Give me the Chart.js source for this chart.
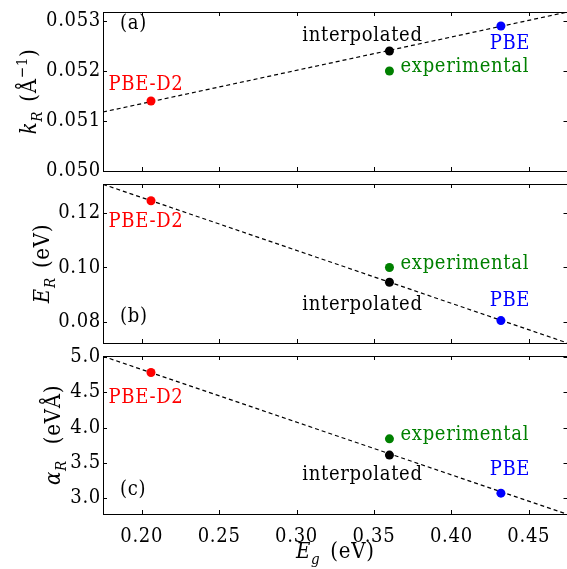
<!DOCTYPE html>
<html>
<head>
<meta charset="utf-8">
<script src="https://cdn.jsdelivr.net/npm/chart.js@4.4.0/dist/chart.umd.min.js"></script>
<style>
  html, body { margin: 0; padding: 0; background: #fff; overflow: hidden; }
  body { width: 567px; height: 569px; position: relative; }
  canvas { position: absolute; left: 0; }
</style>
</head>
<body>
<canvas id="panelA" width="572" height="200" style="top:0px"></canvas>
<canvas id="panelB" width="572" height="200" style="top:172px"></canvas>
<canvas id="panelC" width="572" height="225" style="top:344px"></canvas>
<script>
// values
const methods = ["PBE-D2", "interpolated", "experimental", "PBE"];
const methodColors = ["#ff0000", "#000000", "#008000", "#0000ff"];
const gapEg = [0.206, 0.360, 0.360, 0.432];
const kR = [0.0514, 0.0524, 0.0520, 0.0529];
const ER = [0.1244, 0.0946, 0.1000, 0.0806];
const alphaR = [4.78, 3.61, 3.84, 3.07];

// dashed fit line, end values at the frame edges
const fitEg = [0.175, 0.475];
const kRFit = [0.05118, 0.05318];
const ERFit = [0.1304, 0.0724];
const alphaRFit = [5.01, 2.77];

const egTicks = [0.20, 0.25, 0.30, 0.35, 0.40, 0.45];
const kRTicks = [0.050, 0.051, 0.052, 0.053];
const ERTicks = [0.08, 0.10, 0.12];
const alphaRTicks = [3.0, 3.5, 4.0, 4.5, 5.0];

// only the condensed cut of DejaVu Serif is installed, so widen it a bit
const SERIF = "'DejaVu Serif Condensed', 'DejaVu Serif', serif";
const FS = 20;
const TITLE_FS = 22;
const SPACING = "0.7px";

// draws "math" titles: segments can be italic, sub/superscript, or a blank gap
function drawRich(ctx, segs, size, cx, cy, rotate) {
  ctx.save();
  ctx.translate(cx, cy);
  if (rotate) ctx.rotate(-Math.PI / 2);
  ctx.textBaseline = "alphabetic";
  ctx.textAlign = "left";
  ctx.letterSpacing = SPACING;
  const small = Math.round(size * 0.7);
  const fontOf = s => (s.it ? "italic " : "") + ((s.sub || s.sup) ? small : size) + "px " + SERIF;
  const widthOf = s => {
    if (s.gap) return s.gap;
    ctx.font = fontOf(s);
    return ctx.measureText(s.t).width;
  };
  let total = 0;
  segs.forEach(s => { total += widthOf(s); });
  let x = -total / 2;
  const base = size * 0.36;
  segs.forEach(s => {
    const w = widthOf(s);
    if (!s.gap) {
      let dy = 0;
      if (s.sub) dy = size * 0.28;
      if (s.sup) dy = -size * 0.42;
      ctx.fillStyle = "#000";
      ctx.fillText(s.t, x, base + dy);
    }
    x += w;
  });
  ctx.restore();
}

function makePanel(id, cfg) {
  const ctx = document.getElementById(id).getContext("2d");

  const framePlugin = {
    id: "frame",
    beforeDraw(chart) {
      chart.ctx.letterSpacing = SPACING;
    },
    afterDraw(chart) {
      const c = chart.ctx, a = chart.chartArea;
      const xs = chart.scales.x, ys = chart.scales.y;
      c.save();
      c.letterSpacing = SPACING;
      c.strokeStyle = "#000";
      c.lineWidth = 1;
      c.strokeRect(Math.round(a.left) + 0.5, Math.round(a.top) + 0.5,
        Math.round(a.right - a.left), Math.round(a.bottom - a.top));
      c.beginPath();
      egTicks.forEach(v => {
        const px = Math.round(xs.getPixelForValue(v)) + 0.5;
        c.moveTo(px, a.bottom); c.lineTo(px, a.bottom - 4);
        c.moveTo(px, a.top); c.lineTo(px, a.top + 4);
      });
      cfg.yTicks.forEach(v => {
        const py = Math.round(ys.getPixelForValue(v)) + 0.5;
        c.moveTo(a.left, py); c.lineTo(a.left + 4, py);
        c.moveTo(a.right, py); c.lineTo(a.right - 4, py);
      });
      c.stroke();

      // panel letter
      c.font = FS + "px " + SERIF;
      c.fillStyle = "#000";
      c.textAlign = "left";
      c.textBaseline = "middle";
      const ly = cfg.letterTop ? a.top + cfg.letterDy : a.bottom + cfg.letterDy;
      c.fillText(cfg.letter, a.left + 17, ly);

      // y title, placed left of the widest tick label
      let maxW = 0;
      ys.ticks.forEach(t => { maxW = Math.max(maxW, c.measureText(t.label).width); });
      const tx = a.left - 2 - maxW - cfg.titleGap;
      drawRich(c, cfg.yTitle, TITLE_FS, tx, (a.top + a.bottom) / 2, true);

      if (cfg.showX) {
        drawRich(c, [{ t: "E", it: true }, { t: "g", it: true, sub: true }, { gap: 10 }, { t: "(eV)" }],
          TITLE_FS, (a.left + a.right) / 2, a.bottom + 36, false);
      }
      c.restore();
    }
  };

  const labelPlugin = {
    id: "pointLabels",
    afterDatasetsDraw(chart) {
      const c = chart.ctx;
      const pts = chart.getDatasetMeta(0).data;
      c.save();
      c.letterSpacing = SPACING;
      c.font = FS + "px " + SERIF;
      c.textBaseline = "middle";
      methods.forEach((m, i) => {
        const [dx, dy, align] = cfg.labelOffsets[i];
        c.fillStyle = methodColors[i];
        c.textAlign = align;
        c.fillText(m, pts[i].x + dx, pts[i].y + dy);
      });
      c.restore();
    }
  };

  return new Chart(ctx, {
    type: "scatter",
    data: {
      datasets: [
        {
          data: gapEg.map((x, i) => ({ x: x, y: cfg.values[i] })),
          backgroundColor: methodColors,
          borderWidth: 0,
          pointRadius: 4.5,
          order: 0
        },
        {
          data: fitEg.map((x, i) => ({ x: x, y: cfg.fit[i] })),
          showLine: true,
          borderColor: "#000",
          borderWidth: 1.2,
          borderDash: [4, 3],
          pointRadius: 0,
          order: 1
        }
      ]
    },
    options: {
      responsive: false,
      animation: false,
      events: [],
      layout: { padding: cfg.padding },
      plugins: { legend: { display: false }, tooltip: { enabled: false } },
      scales: {
        x: {
          type: "linear",
          min: 0.175,
          max: 0.475,
          display: !!cfg.showX,
          grid: { display: false },
          border: { display: false },
          afterBuildTicks: s => { s.ticks = egTicks.map(v => ({ value: v })); },
          afterFit: s => { if (cfg.showX) s.height = 55; },
          ticks: {
            padding: 5,
            color: "#000",
            font: { family: SERIF, size: FS, lineHeight: 1 },
            callback: v => v.toFixed(2)
          }
        },
        y: {
          type: "linear",
          min: cfg.yMin,
          max: cfg.yMax,
          grid: { display: false, drawTicks: false },
          border: { display: false },
          afterBuildTicks: s => { s.ticks = cfg.yTicks.map(v => ({ value: v })); },
          afterFit: s => { s.width = 103; },
          ticks: {
            padding: 2,
            color: "#000",
            font: { family: SERIF, size: FS, lineHeight: 1 },
            callback: v => v.toFixed(cfg.decimals)
          }
        }
      }
    },
    plugins: [framePlugin, labelPlugin]
  });
}

makePanel("panelA", {
  values: kR, fit: kRFit, yMin: 0.050, yMax: 0.05318, yTicks: kRTicks, decimals: 3,
  padding: { top: 10, bottom: 29, left: 0, right: 1 },
  letter: "(a)", letterTop: true, letterDy: 12,
  titleGap: 18,
  yTitle: [{ t: "k", it: true }, { t: "R", it: true, sub: true }, { gap: 9 }, { t: "(Å" }, { t: "−1", sup: true }, { t: ")" }],
  labelOffsets: [[-5, -16, "center"], [-27, -15, "center"], [11, -4, "left"], [9, 18, "center"]]
});

makePanel("panelB", {
  values: ER, fit: ERFit, yMin: 0.0724, yMax: 0.1305, yTicks: ERTicks, decimals: 2,
  padding: { top: 10, bottom: 29, left: 0, right: 1 },
  letter: "(b)", letterTop: false, letterDy: -26,
  titleGap: 17,
  yTitle: [{ t: "E", it: true }, { t: "R", it: true, sub: true }, { gap: 9 }, { t: "(eV)" }],
  labelOffsets: [[-5, 21, "center"], [-27, 23, "center"], [11, -4, "left"], [9, -20, "center"]]
});

makePanel("panelC", {
  values: alphaR, fit: alphaRFit, yMin: 2.775, yMax: 5.014, yTicks: alphaRTicks, decimals: 1,
  padding: { top: 11, bottom: 0, left: 0, right: 1 },
  letter: "(c)", letterTop: false, letterDy: -24,
  titleGap: 18, showX: true,
  yTitle: [{ t: "α", it: true }, { t: "R", it: true, sub: true }, { gap: 16 }, { t: "(eVÅ)" }],
  labelOffsets: [[-5, 25, "center"], [-27, 20, "center"], [11, -4, "left"], [9, -23, "center"]]
});
</script>
</body>
</html>
